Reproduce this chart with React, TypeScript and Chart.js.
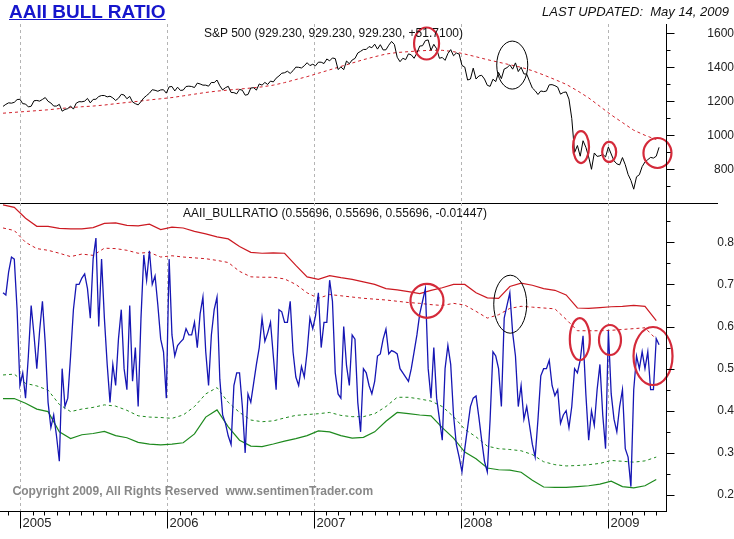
import { useEffect, useRef } from 'react';
import { Chart, registerables } from 'chart.js';

Chart.register(...registerables);

const FONT = "'Liberation Sans', Arial, Helvetica, sans-serif";
const DAY = 86400000;
const WEEK = 7 * DAY;
const FIRST_WEEK = Date.UTC(2004, 10, 19);
const X_MIN = Date.UTC(2004, 10, 11, 12);
const X_MAX = Date.UTC(2009, 4, 25, 6);
const BAND_STEP_WEEKS = 4;

const YEARS = [2005, 2006, 2007, 2008, 2009];
const YEAR_LABELS = ['2005', '2006', '2007', '2008', '2009'];
const SPX_TICKS = [800, 1000, 1200, 1400, 1600];
const SPX_MINOR = [700, 900, 1100, 1300, 1500];
const RATIO_TICKS = [0.2, 0.3, 0.4, 0.5, 0.6, 0.7, 0.8];
const RATIO_MINOR = [0.25, 0.35, 0.45, 0.55, 0.65, 0.75, 0.85];

// S&P 500 weekly closes, from 19 Nov 2004 to 8 May 2009
const SPX_WEEKLY = [
  1170, 1182, 1191, 1189, 1194, 1210, 1212,
  1186, 1184, 1167, 1171, 1203, 1205, 1201, 1211, 1222, 1200, 1190, 1172, 1172, 1182, 1142, 1152, 1157, 1172, 1154, 1189,
  1198, 1197, 1201, 1217, 1191, 1211, 1212, 1228, 1234, 1234, 1226, 1230, 1220, 1205, 1218, 1241, 1237, 1215, 1229, 1196,
  1186, 1179, 1198, 1220, 1234, 1248, 1268, 1265, 1259, 1267, 1268, 1248,
  1285, 1287, 1261, 1283, 1264, 1266, 1287, 1289, 1287, 1281, 1307, 1302, 1295, 1295, 1289, 1311, 1310, 1325, 1291, 1267,
  1280, 1288, 1252, 1251, 1244, 1270, 1265, 1236, 1240, 1278, 1280, 1266, 1302, 1295, 1311, 1299, 1319, 1314, 1336, 1349,
  1365, 1368, 1377, 1364, 1380, 1401, 1400, 1396, 1409, 1427, 1410, 1418,
  1409, 1430, 1430, 1422, 1449, 1438, 1455, 1451, 1387, 1402, 1386, 1437, 1421, 1443, 1452, 1484, 1494, 1505, 1505, 1522,
  1515, 1536, 1507, 1533, 1502, 1503, 1530, 1552, 1534, 1459, 1433, 1453, 1445, 1479, 1473, 1453, 1484, 1525, 1527, 1557,
  1561, 1500, 1535, 1509, 1453, 1458, 1441, 1481, 1504, 1468, 1484, 1478,
  1411, 1401, 1325, 1331, 1395, 1331, 1349, 1353, 1331, 1294, 1288, 1330, 1316, 1370, 1333, 1390, 1398, 1414, 1389, 1426,
  1375, 1400, 1361, 1360, 1318, 1278, 1262, 1240, 1261, 1257, 1260, 1297, 1298, 1292, 1283, 1242, 1252, 1255, 1213, 1099,
  899, 940, 877, 968, 930, 873, 800, 896, 876, 879, 888, 873,
  931, 890, 850, 832, 826, 869, 827, 770, 735, 683, 756, 768, 816, 843, 857, 870, 866, 877, 929.23,
];

// S&P 500 moving average, every 4 weeks
const SPX_MA = [
  1130, 1135, 1140, 1145, 1150, 1157, 1163, 1168, 1172, 1178,
  1186, 1193, 1200, 1208, 1215, 1222, 1232, 1242, 1252, 1260,
  1266, 1272, 1278, 1285, 1295, 1310, 1328, 1345, 1365, 1385,
  1405, 1425, 1445, 1462, 1478, 1487, 1492, 1497, 1500, 1500,
  1492, 1478, 1462, 1445, 1430, 1415, 1400, 1380, 1355, 1328,
  1300, 1262, 1220, 1170, 1120, 1075, 1030, 1000, 975,
];

// AAII bull ratio, weekly
const BULL_RATIO = [
  0.68, 0.675, 0.73, 0.765, 0.76, 0.64, 0.46, 0.49, 0.43, 0.53,
  0.65, 0.58, 0.50, 0.59, 0.66, 0.56, 0.42, 0.36, 0.39, 0.34,
  0.28, 0.50, 0.41, 0.43, 0.53, 0.64, 0.70, 0.70, 0.715, 0.725,
  0.69, 0.62, 0.76, 0.81, 0.60, 0.76, 0.62, 0.51, 0.42, 0.51,
  0.46, 0.57, 0.64, 0.50, 0.45, 0.65, 0.47, 0.55, 0.41, 0.62,
  0.77, 0.71, 0.78, 0.70, 0.72, 0.65, 0.57, 0.54, 0.43, 0.76,
  0.58, 0.53, 0.555, 0.563, 0.57, 0.595, 0.58, 0.58, 0.61, 0.55,
  0.63, 0.67, 0.54, 0.46, 0.58, 0.64, 0.67, 0.475, 0.39, 0.37,
  0.34, 0.32, 0.46, 0.49, 0.49, 0.41, 0.30, 0.44, 0.42, 0.465,
  0.51, 0.55, 0.62, 0.565, 0.585, 0.61, 0.53, 0.45, 0.64, 0.635,
  0.61, 0.61, 0.66, 0.54, 0.48, 0.46, 0.505, 0.48, 0.54, 0.62,
  0.595, 0.626, 0.68, 0.55, 0.61, 0.61, 0.71, 0.66, 0.49, 0.44,
  0.43, 0.60, 0.507, 0.46, 0.58, 0.57, 0.42, 0.35, 0.50, 0.49,
  0.46, 0.44, 0.47, 0.53, 0.535, 0.57, 0.594, 0.535, 0.543, 0.54,
  0.535, 0.50, 0.49, 0.48, 0.47, 0.50, 0.54, 0.58, 0.63, 0.66,
  0.69, 0.50, 0.43, 0.55, 0.43, 0.38, 0.33, 0.50, 0.555, 0.51,
  0.39, 0.32, 0.29, 0.255, 0.31, 0.36, 0.41, 0.43, 0.435, 0.385,
  0.33, 0.28, 0.255, 0.38, 0.54, 0.53, 0.50, 0.41, 0.62, 0.65,
  0.68, 0.585, 0.53, 0.41, 0.46, 0.38, 0.41, 0.365, 0.32, 0.29,
  0.38, 0.483, 0.50, 0.50, 0.52, 0.46, 0.436, 0.45, 0.37, 0.39,
  0.40, 0.36, 0.41, 0.50, 0.49, 0.52, 0.578, 0.44, 0.33, 0.40,
  0.365, 0.45, 0.51, 0.39, 0.31, 0.59, 0.44, 0.38, 0.35, 0.41,
  0.45, 0.31, 0.29, 0.22, 0.45, 0.53, 0.50, 0.54, 0.50, 0.54,
  0.45, 0.45, 0.57143, 0.55696,
];

// Bands, every 4 weeks
const UPPER_BAND = [
  0.889, 0.883, 0.857, 0.838, 0.838, 0.833, 0.832, 0.832, 0.835, 0.845,
  0.846, 0.840, 0.839, 0.843, 0.830, 0.836, 0.834, 0.826, 0.820, 0.813,
  0.808, 0.790, 0.776, 0.774, 0.775, 0.774, 0.745, 0.718, 0.712, 0.721,
  0.716, 0.712, 0.706, 0.700, 0.690, 0.687, 0.683, 0.678, 0.686, 0.692,
  0.700, 0.700, 0.680, 0.668, 0.667, 0.695, 0.703, 0.698, 0.690, 0.686,
  0.675, 0.644, 0.643, 0.645, 0.647, 0.648, 0.650, 0.648, 0.614,
];
const UPPER_INNER = [
  0.834, 0.828, 0.800, 0.785, 0.781, 0.774, 0.766, 0.772, 0.769, 0.786,
  0.785, 0.781, 0.774, 0.776, 0.765, 0.768, 0.765, 0.763, 0.761, 0.757,
  0.752, 0.731, 0.718, 0.717, 0.717, 0.713, 0.700, 0.680, 0.667, 0.676,
  0.673, 0.670, 0.667, 0.665, 0.663, 0.660, 0.657, 0.655, 0.652, 0.650,
  0.655, 0.651, 0.636, 0.620, 0.628, 0.643, 0.648, 0.646, 0.644, 0.642,
  0.617, 0.590, 0.590, 0.590, 0.591, 0.593, 0.595, 0.597, 0.570,
];
const LOWER_INNER = [
  0.485, 0.487, 0.465, 0.459, 0.449, 0.415, 0.398, 0.404, 0.408, 0.414,
  0.411, 0.401, 0.388, 0.385, 0.384, 0.382, 0.390, 0.410, 0.440, 0.455,
  0.420, 0.396, 0.378, 0.374, 0.376, 0.383, 0.389, 0.391, 0.393, 0.396,
  0.389, 0.386, 0.386, 0.393, 0.410, 0.432, 0.432, 0.428, 0.423, 0.410,
  0.386, 0.356, 0.338, 0.316, 0.310, 0.308, 0.305, 0.296, 0.279, 0.272,
  0.269, 0.270, 0.272, 0.275, 0.282, 0.280, 0.278, 0.281, 0.290,
];
const LOWER_BAND = [
  0.429, 0.429, 0.418, 0.404, 0.398, 0.350, 0.334, 0.343, 0.346, 0.351,
  0.341, 0.336, 0.325, 0.321, 0.319, 0.321, 0.324, 0.345, 0.385, 0.402,
  0.362, 0.330, 0.316, 0.315, 0.321, 0.328, 0.334, 0.341, 0.352, 0.350,
  0.341, 0.335, 0.337, 0.350, 0.375, 0.396, 0.393, 0.390, 0.388, 0.360,
  0.335, 0.302, 0.286, 0.264, 0.260, 0.259, 0.254, 0.235, 0.219, 0.218,
  0.218, 0.220, 0.222, 0.226, 0.233, 0.220, 0.217, 0.222, 0.237,
];

type Mark = { date: number; value: number; rx: number; ry: number; color: string; width: number };
const MARK_RED = '#d42a3a';
const TOP_MARKS: Mark[] = [
  { date: Date.UTC(2007, 9, 8), value: 1540, rx: 12.5, ry: 16, color: MARK_RED, width: 2.2 },
  { date: Date.UTC(2008, 4, 8), value: 1413, rx: 15.5, ry: 24, color: '#000', width: 1 },
  { date: Date.UTC(2008, 9, 26), value: 931, rx: 8, ry: 16, color: MARK_RED, width: 2.2 },
  { date: Date.UTC(2009, 0, 4), value: 902, rx: 7, ry: 10, color: MARK_RED, width: 2.2 },
  { date: Date.UTC(2009, 4, 4), value: 896, rx: 14, ry: 15, color: MARK_RED, width: 2.2 },
];
const BOTTOM_MARKS: Mark[] = [
  { date: Date.UTC(2007, 9, 9), value: 0.661, rx: 16.5, ry: 17, color: MARK_RED, width: 2.2 },
  { date: Date.UTC(2008, 4, 3), value: 0.653, rx: 16.5, ry: 29, color: '#000', width: 1 },
  { date: Date.UTC(2008, 9, 23), value: 0.57, rx: 10, ry: 21, color: MARK_RED, width: 2.2 },
  { date: Date.UTC(2009, 0, 6), value: 0.568, rx: 11, ry: 15, color: MARK_RED, width: 2.2 },
  { date: Date.UTC(2009, 3, 23), value: 0.53, rx: 19.5, ry: 29, color: MARK_RED, width: 2.2 },
];

const weekly = (arr: number[]) => arr.map((v, i) => ({ x: FIRST_WEEK + i * WEEK, y: v }));
const banded = (arr: number[]) => arr.map((v, k) => ({ x: FIRST_WEEK + k * BAND_STEP_WEEKS * WEEK, y: v }));

type PanelCfg = { major: number[]; minor: number[]; marks: Mark[]; divider: boolean; xAxis: boolean };

function panelPlugin(cfg: PanelCfg) {
  return {
    id: 'panelDecor',
    beforeDatasetsDraw(chart: any) {
      const { ctx, chartArea: a } = chart;
      const xs = chart.scales.x;
      ctx.save();
      ctx.strokeStyle = '#b4b4b4';
      ctx.lineWidth = 1;
      ctx.setLineDash([3, 3]);
      for (const yr of YEARS) {
        const px = Math.round(xs.getPixelForValue(Date.UTC(yr, 0, 1))) + 0.5;
        ctx.beginPath();
        ctx.moveTo(px, a.top);
        ctx.lineTo(px, a.bottom);
        ctx.stroke();
      }
      ctx.restore();
    },
    afterDatasetsDraw(chart: any) {
      const { ctx } = chart;
      const xs = chart.scales.x;
      const ys = chart.scales.y;
      ctx.save();
      for (const m of cfg.marks) {
        ctx.beginPath();
        ctx.strokeStyle = m.color;
        ctx.lineWidth = m.width;
        ctx.ellipse(xs.getPixelForValue(m.date), ys.getPixelForValue(m.value), m.rx, m.ry, 0, 0, Math.PI * 2);
        ctx.stroke();
      }
      ctx.restore();
    },
    afterDraw(chart: any) {
      const { ctx, chartArea: a } = chart;
      const ys = chart.scales.y;
      const xs = chart.scales.x;
      ctx.save();
      ctx.strokeStyle = '#000';
      ctx.lineWidth = 1;
      const ax = a.right + 0.5;
      ctx.beginPath();
      ctx.moveTo(ax, a.top);
      ctx.lineTo(ax, a.bottom + 1);
      ctx.stroke();
      for (const v of cfg.major) {
        const py = Math.round(ys.getPixelForValue(v)) + 0.5;
        ctx.beginPath();
        ctx.moveTo(ax, py);
        ctx.lineTo(ax + 8, py);
        ctx.stroke();
      }
      for (const v of cfg.minor) {
        const py = Math.round(ys.getPixelForValue(v)) + 0.5;
        if (py < a.top || py > a.bottom) continue;
        ctx.beginPath();
        ctx.moveTo(ax, py);
        ctx.lineTo(ax + 4, py);
        ctx.stroke();
      }
      if (cfg.divider) {
        const dy = a.bottom + 0.5;
        ctx.beginPath();
        ctx.moveTo(0, dy);
        ctx.lineTo(718, dy);
        ctx.stroke();
      }
      if (cfg.xAxis) {
        const by = a.bottom + 0.5;
        ctx.beginPath();
        ctx.moveTo(a.left, by);
        ctx.lineTo(a.right, by);
        ctx.stroke();
        ctx.fillStyle = '#222';
        ctx.font = `13px ${FONT}`;
        ctx.textBaseline = 'alphabetic';
        ctx.textAlign = 'left';
        for (let y = 2004; y <= 2009; y++) {
          for (let m = 0; m < 12; m++) {
            const t = Date.UTC(y, m, 1);
            if (t < X_MIN || t > X_MAX) continue;
            const px = Math.round(xs.getPixelForValue(t)) + 0.5;
            ctx.beginPath();
            ctx.moveTo(px, by);
            ctx.lineTo(px, by + (m === 0 ? 17 : 4));
            ctx.stroke();
            if (m === 0) {
              const idx = YEARS.indexOf(y);
              if (idx >= 0) ctx.fillText(YEAR_LABELS[idx], px + 2, by + 15.5);
            }
          }
        }
      }
      ctx.restore();
    },
  };
}

const xScale = { type: 'linear', min: X_MIN, max: X_MAX, display: false };

function yScale(min: number, max: number, ticks: number[], padding: number, fmt: (v: number) => string) {
  return {
    type: 'linear',
    position: 'right',
    min,
    max,
    grid: { display: false, drawTicks: false },
    border: { display: false },
    afterBuildTicks: (s: any) => {
      s.ticks = ticks.map((v) => ({ value: v }));
    },
    afterFit: (s: any) => {
      s.width = 68;
      s.paddingTop = 0;
      s.paddingBottom = 0;
    },
    ticks: {
      padding,
      crossAlign: 'far',
      color: '#222',
      font: { family: FONT, size: 12 },
      callback: (v: any) => fmt(Number(v)),
    },
  };
}

const baseOptions = {
  responsive: false,
  devicePixelRatio: 1,
  animation: false,
  events: [],
  plugins: { legend: { display: false }, tooltip: { enabled: false }, title: { display: false } },
  elements: { point: { radius: 0 }, line: { tension: 0 } },
};

export default function App() {
  const topRef = useRef<HTMLCanvasElement>(null);
  const botRef = useRef<HTMLCanvasElement>(null);

  useEffect(() => {
    const top = new Chart(topRef.current as HTMLCanvasElement, {
      type: 'line',
      data: {
        datasets: [
          { data: weekly(SPX_WEEKLY), borderColor: '#000', borderWidth: 1 },
          { data: banded(SPX_MA), borderColor: '#d0202a', borderWidth: 1, borderDash: [3, 3] },
        ],
      },
      options: {
        ...baseOptions,
        layout: { padding: { top: 24, bottom: 1, left: 0, right: 0 } },
        scales: {
          x: xScale,
          y: yScale(601.8, 1654.7, SPX_TICKS, 20, (v) => String(v)),
        },
      } as any,
      plugins: [panelPlugin({ major: SPX_TICKS, minor: SPX_MINOR, marks: TOP_MARKS, divider: true, xAxis: false })],
    });
    const bot = new Chart(botRef.current as HTMLCanvasElement, {
      type: 'line',
      data: {
        datasets: [
          { data: weekly(BULL_RATIO), borderColor: '#1616b4', borderWidth: 1.3 },
          { data: banded(UPPER_BAND), borderColor: '#cc1a22', borderWidth: 1.2 },
          { data: banded(UPPER_INNER), borderColor: '#cc1a22', borderWidth: 1, borderDash: [3, 3] },
          { data: banded(LOWER_INNER), borderColor: '#1e8a1e', borderWidth: 1, borderDash: [3, 3] },
          { data: banded(LOWER_BAND), borderColor: '#1e8a1e', borderWidth: 1.2 },
        ],
      },
      options: {
        ...baseOptions,
        layout: { padding: { top: 0, bottom: 28, left: 0, right: 0 } },
        scales: {
          x: xScale,
          y: yScale(0.162, 0.8933, RATIO_TICKS, 31, (v) => v.toFixed(1)),
        },
      } as any,
      plugins: [panelPlugin({ major: RATIO_TICKS, minor: RATIO_MINOR, marks: BOTTOM_MARKS, divider: false, xAxis: true })],
    });
    return () => {
      top.destroy();
      bot.destroy();
    };
  }, []);

  const text = (extra: any) => ({ position: 'absolute', lineHeight: 1, whiteSpace: 'nowrap', fontFamily: FONT, ...extra });

  return (
    <div style={{ position: 'absolute', left: 0, top: 0, width: 734, height: 539, background: '#fff', overflow: 'hidden' }}>
      <canvas ref={topRef} width={734} height={204} style={{ position: 'absolute', left: 0, top: 0 }} />
      <canvas ref={botRef} width={734} height={336} style={{ position: 'absolute', left: 0, top: 203 }} />
      <div style={text({ left: 9, top: 2, fontSize: 19, fontWeight: 'bold', color: '#1616cc', textDecoration: 'underline' })}>
        AAII BULL RATIO
      </div>
      <div style={text({ right: 5, top: 5, fontSize: 13, fontStyle: 'italic', color: '#111' })}>
        LAST UPDATED:&nbsp; May 14, 2009
      </div>
      <div style={text({ left: 204, top: 26.5, fontSize: 12, color: '#111' })}>
        S&amp;P 500 (929.230, 929.230, 929.230, +51.7100)
      </div>
      <div style={text({ left: 183, top: 207, fontSize: 12, color: '#111' })}>
        AAII_BULLRATIO (0.55696, 0.55696, 0.55696, -0.01447)
      </div>
      <div style={text({ left: 12.5, top: 485, fontSize: 12, fontWeight: 'bold', color: '#888' })}>
        Copyright 2009, All Rights Reserved&nbsp; www.sentimenTrader.com
      </div>
    </div>
  );
}
